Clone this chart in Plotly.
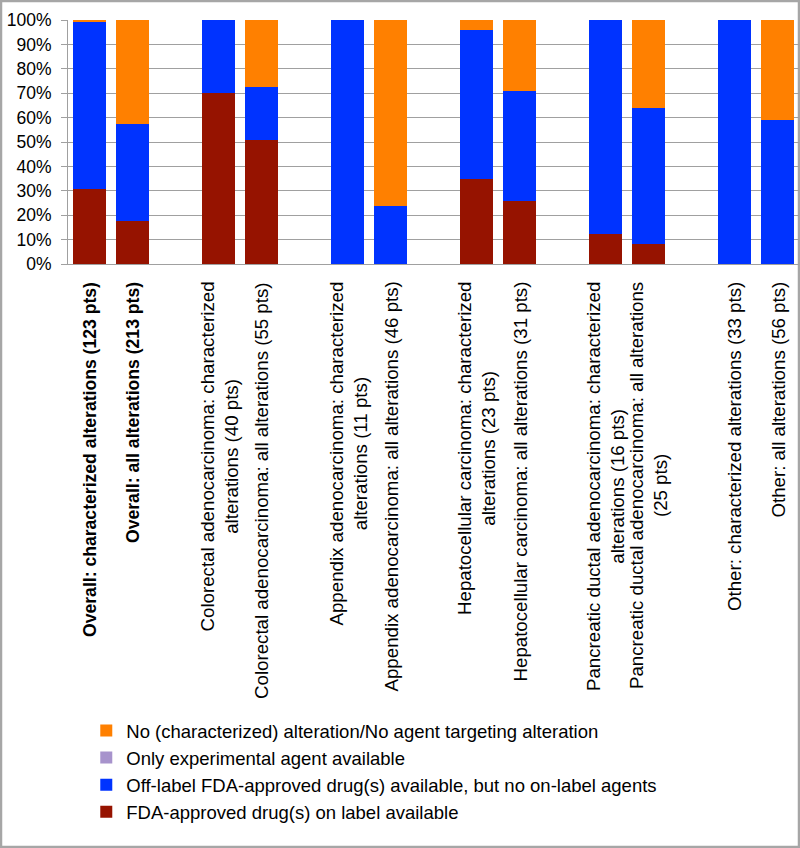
import plotly.graph_objects as go

# ---- data (percent of patients) ----
labels = [
    "<b>Overall: characterized alterations (123 pts)</b>",
    "<b>Overall: all alterations (213 pts)</b>",
    "Colorectal adenocarcinoma: characterized<br>alterations (40 pts)",
    "Colorectal adenocarcinoma: all alterations (55 pts)",
    "Appendix adenocarcinoma: characterized<br>alterations (11 pts)",
    "Appendix adenocarcinoma: all alterations (46 pts)",
    "Hepatocellular carcinoma: characterized<br>alterations (23 pts)",
    "Hepatocellular carcinoma: all alterations (31 pts)",
    "Pancreatic ductal adenocarcinoma: characterized<br>alterations (16 pts)",
    "Pancreatic ductal adenocarcinoma: all alterations<br>(25 pts)",
    "Other: characterized alterations (33 pts)",
    "Other: all alterations (56 pts)",
]
on_label = [30.9, 17.8, 70.0, 50.9, 0.0, 0.0, 34.8, 25.8, 12.5, 8.0, 0.0, 0.0]
off_label = [68.3, 39.4, 30.0, 21.8, 100.0, 23.9, 60.9, 45.2, 87.5, 56.0, 100.0, 58.9]
experimental = [0.0, 0.0, 0.0, 0.0, 0.0, 0.0, 0.0, 0.0, 0.0, 0.0, 0.0, 0.0]
no_target = [0.8, 42.8, 0.0, 27.3, 0.0, 76.1, 4.3, 29.0, 0.0, 36.0, 0.0, 41.1]

series_names = [
    "FDA-approved drug(s) on label available",
    "Off-label FDA-approved drug(s) available, but no on-label agents",
    "Only experimental agent available",
    "No (characterized) alteration/No agent targeting alteration",
]
series_colors = ["#961300", "#0033FF", "#A793CC", "#FF8000"]

# pairs of bars separated by an empty slot
xpos = [g * 3 + k for g in range(len(labels) // 2) for k in range(2)]

FONT = "Arial, Liberation Sans, sans-serif"

fig = go.Figure()
for name, vals, col in zip(series_names, [on_label, off_label, experimental, no_target], series_colors):
    fig.add_trace(go.Bar(x=xpos, y=vals, name=name, marker=dict(color=col, line=dict(width=0))))

for x, lab in zip(xpos, labels):
    bold = lab.startswith("<b>")
    fig.add_annotation(
        x=x, y=0, xref="x", yref="paper", text=lab, textangle=-90,
        showarrow=False, yanchor="top", xanchor="center", yshift=-16, align="center",
        font=dict(family=FONT, size=17.6 if bold else 18.7, color="#000000"),
    )

# outer border of the figure
L, R, T, B = 68, 1, 20, 584
PW, PH = 800 - L - R, 848 - T - B
fig.add_shape(
    type="rect", xref="paper", yref="paper",
    x0=(1 - L) / PW, x1=(799 - L) / PW, y0=-(847 - T - PH) / PH, y1=1 + (T - 1) / PH,
    line=dict(color="#A6A6A6", width=2.5), fillcolor="rgba(0,0,0,0)", layer="below",
)

fig.update_layout(
    width=800, height=848,
    margin=dict(l=L, r=R, t=T, b=B),
    barmode="stack", bargap=0.23,
    plot_bgcolor="white", paper_bgcolor="white",
    font=dict(family=FONT, size=18.5, color="#000000"),
    showlegend=True,
    legend=dict(
        x=0.025, xanchor="left", y=(PH - (712 - T)) / PH, yanchor="top",
        traceorder="reversed", font=dict(family=FONT, size=18.5, color="#000000"),
        bgcolor="rgba(0,0,0,0)", tracegroupgap=0,
    ),
    xaxis=dict(
        range=[-0.5, xpos[-1] + 0.5], showticklabels=False, ticks="",
        showgrid=False, zeroline=False, showline=True, linecolor="#A0A0A0", linewidth=1,
        fixedrange=True,
    ),
    yaxis=dict(
        range=[0, 100], tickvals=[0, 10, 20, 30, 40, 50, 60, 70, 80, 90, 100],
        ticktext=["0%", "10%", "20%", "30%", "40%", "50%", "60%", "70%", "80%", "90%", "100%"],
        ticks="outside", ticklen=6, tickcolor="#A0A0A0", ticklabelstandoff=6,
        showgrid=True, gridcolor="#A0A0A0", gridwidth=1,
        zeroline=False, showline=True, linecolor="#A0A0A0", linewidth=1,
        tickfont=dict(family=FONT, size=17.5, color="#000000"),
    ),
)

fig.write_html(
    "out.html",
    config={"displayModeBar": False},
    post_script="document.body.style.margin='0';document.body.style.overflow='hidden';",
)
